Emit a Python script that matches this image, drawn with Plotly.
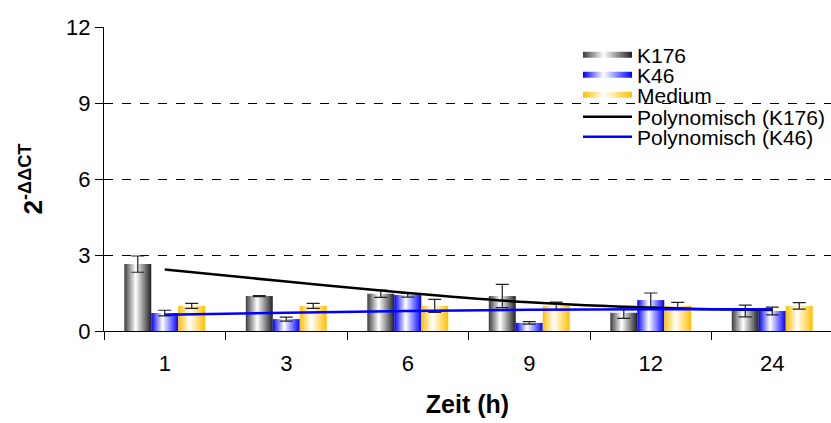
import plotly.graph_objects as go

categories = ["1", "3", "6", "9", "12", "24"]
k176 = [2.64, 1.38, 1.47, 1.38, 0.72, 0.79]
k176_err = [0.32, 0.02, 0.14, 0.46, 0.22, 0.23]
k46 = [0.71, 0.47, 1.42, 0.32, 1.22, 0.79]
k46_err = [0.11, 0.08, 0.08, 0.05, 0.28, 0.15]
medium = [0.99, 0.99, 0.99, 0.99, 0.99, 0.99]
medium_err = [0.10, 0.10, 0.26, 0.15, 0.14, 0.13]
trend_k176 = [2.43, 1.95, 1.50, 1.13, 0.92, 0.83]
trend_k46 = [0.64, 0.72, 0.79, 0.84, 0.86, 0.86]

series = [
    ("K176", k176, k176_err, [[0, "#3c3c3c"], [0.42, "#ffffff"], [1, "#202020"]], -1),
    ("K46", k46, k46_err, [[0, "#0000ff"], [0.42, "#ffffff"], [1, "#0000ff"]], 0),
    ("Medium", medium, medium_err, [[0, "#ffbf00"], [0.42, "#ffffff"], [1, "#ffc000"]], 1),
]
BW = 0.222
FONT = "Liberation Sans, Arial, sans-serif"

fig = go.Figure()
legend_names = ["legend", "legend2", "legend3", "legend4", "legend5"]
for si, (name, vals, errs, cs, off) in enumerate(series):
    for i, v in enumerate(vals):
        xc = i + off * BW
        fig.add_trace(go.Scatter(
            x=[xc - BW / 2, xc + BW / 2, xc + BW / 2, xc - BW / 2, xc - BW / 2],
            y=[0, 0, v, v, 0],
            mode="none", fill="toself",
            fillgradient=dict(type="horizontal", colorscale=cs),
            name=name, legendgroup=name, showlegend=(i == 0),
            legend=legend_names[si], hoverinfo="skip",
        ))

for si, (name, vals, errs, cs, off) in enumerate(series):
    fig.add_trace(go.Scatter(
        x=[i + off * BW for i in range(len(vals))], y=vals,
        mode="markers", marker=dict(size=1, opacity=0),
        error_y=dict(type="data", array=errs, visible=True, color="#222222",
                     thickness=1.2, width=6.5),
        showlegend=False, hoverinfo="skip",
    ))

fig.add_trace(go.Scatter(
    x=list(range(len(categories))), y=trend_k176, mode="lines",
    line=dict(color="black", width=2.5, shape="spline"),
    name="Polynomisch (K176)", legend="legend4",
))
fig.add_trace(go.Scatter(
    x=list(range(len(categories))), y=trend_k46, mode="lines",
    line=dict(color="#0000ff", width=2.5, shape="spline"),
    name="Polynomisch (K46)", legend="legend5",
))

W, H = 831, 423
L, T, B = 104, 27, 92
plot_w = W - L
cat_px = 121.5
xmax = -0.5 + plot_w / cat_px

def legend_cfg(py):
    return dict(x=(578 - L) / plot_w, y=(H - B - py) / (H - B - T),
                xanchor="left", yanchor="middle",
                font=dict(family=FONT, size=21, color="black"),
                bgcolor="rgba(0,0,0,0)", itemwidth=49, borderwidth=0)

fig.update_layout(
    width=W, height=H,
    margin=dict(l=L, r=0, t=T, b=B),
    plot_bgcolor="white", paper_bgcolor="white",
    font=dict(family=FONT, size=22, color="black"),
    legend=legend_cfg(55), legend2=legend_cfg(75), legend3=legend_cfg(95),
    legend4=legend_cfg(117), legend5=legend_cfg(137),
    xaxis=dict(
        range=[-0.5, xmax], tickmode="array",
        tickvals=list(range(len(categories))), ticktext=categories,
        ticks="", showgrid=False, zeroline=False,
        showline=True, linecolor="black", linewidth=1,
        ticklabelstandoff=13,
        minor=dict(tick0=-0.5, dtick=1, ticks="outside", ticklen=8,
                   tickcolor="black", showgrid=False),
        title=dict(text="<b>Zeit (h)</b>", font=dict(size=25), standoff=20),
        tickfont=dict(size=22),
    ),
    yaxis=dict(
        range=[0, 12], tickvals=[0, 3, 6, 9, 12],
        ticks="outside", ticklen=8, tickcolor="black",
        showline=True, linecolor="black", linewidth=1,
        showgrid=True, gridcolor="black", griddash="dash", gridwidth=1,
        zeroline=False,
        title=dict(text="<b>2<sup>-ΔΔCT</sup></b>", font=dict(size=26), standoff=16),
        tickfont=dict(size=22),
    ),
)

fig.write_html("out.html")
